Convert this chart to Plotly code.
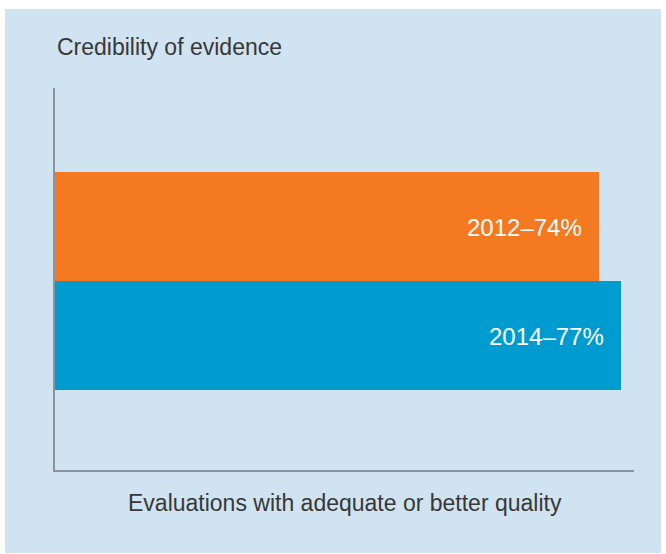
import plotly.graph_objects as go

years = ["2012", "2014"]
values = [74, 77]
labels = ["2012–74%", "2014–77%"]
colors = ["#f47920", "#009ccf"]
category_order = ["2014", "2012"]

title_text = "Credibility of evidence"
xaxis_text = "Evaluations with adequate or better quality"

W, H = 666, 554
L, R, T, B = 55, 32, 88, 84
pw, ph = W - L - R, H - T - B

def px_x(px):
    return (px - L) / pw

def px_y(py):
    return (H - B - py) / ph

FONT = "Liberation Sans, Arial, sans-serif"

fig = go.Figure()
fig.add_trace(go.Bar(
    y=years, x=values, orientation="h",
    marker=dict(color=colors, line=dict(width=0)),
    width=1.0, hoverinfo="skip", showlegend=False,
))

annotations = []
for y, v, lab in zip(years, values, labels):
    annotations.append(dict(
        x=v, y=category_order.index(y), xref="x", yref="y", text=lab, showarrow=False,
        xanchor="right", yanchor="middle", xshift=-15, yshift=-1,
        font=dict(family=FONT, size=24, color="white"),
    ))
annotations.append(dict(
    x=0, y=px_y(47), xref="paper", yref="paper", text=title_text, showarrow=False,
    xanchor="left", yanchor="middle",
    font=dict(family=FONT, size=23, color="#383838"),
))
annotations.append(dict(
    x=0.5, y=px_y(503), xref="paper", yref="paper", text=xaxis_text, showarrow=False,
    xanchor="center", yanchor="middle",
    font=dict(family=FONT, size=23, color="#383838"),
))

fig.update_layout(
    width=W, height=H,
    margin=dict(l=L, r=R, t=T, b=B, pad=0),
    paper_bgcolor="white",
    plot_bgcolor="rgba(0,0,0,0)",
    bargap=0,
    annotations=annotations,
    shapes=[dict(
        type="rect", xref="paper", yref="paper", layer="below",
        x0=px_x(5), x1=px_x(661), y0=px_y(553), y1=px_y(9),
        fillcolor="#d0e3f0", line=dict(width=0),
    )],
    xaxis=dict(range=[0, 78.7], showgrid=False, zeroline=False, showticklabels=False,
               ticks="", showline=True, linecolor="#8c949b", linewidth=1.5, fixedrange=True),
    yaxis=dict(type="category", categoryorder="array", categoryarray=category_order,
               range=[-(H - B - 335.5) / 109, (335.5 - T) / 109],
               showgrid=False, zeroline=False, showticklabels=False, ticks="",
               showline=True, linecolor="#8c949b", linewidth=1.5, fixedrange=True),
)

fig.write_html("out.html", config={"displayModeBar": False},
               post_script="document.body.style.margin='0';document.body.style.overflow='hidden';")
